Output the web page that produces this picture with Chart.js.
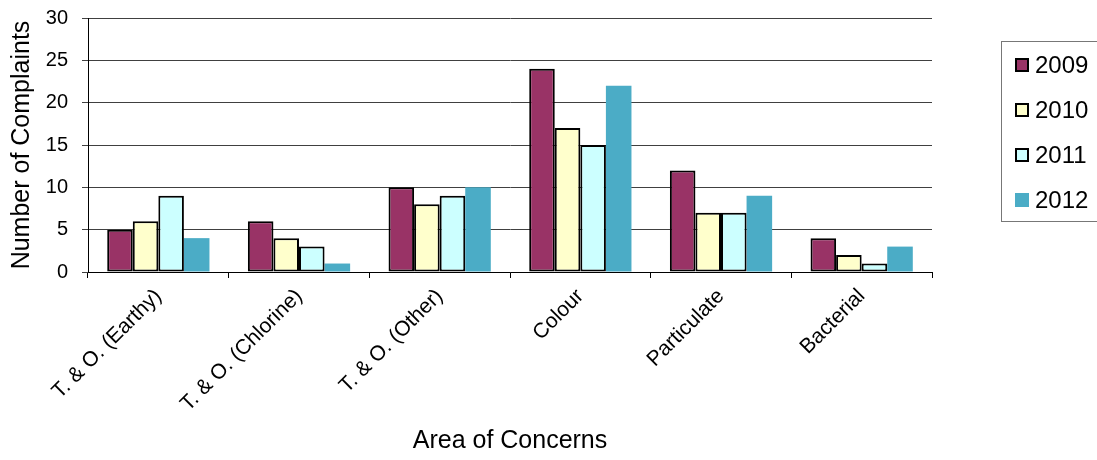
<!DOCTYPE html>
<html>
<head>
<meta charset="utf-8">
<script src="https://cdn.jsdelivr.net/npm/chart.js@4/dist/chart.umd.min.js"></script>
<style>
  html, body { margin: 0; padding: 0; background: #fff; }
  #wrap { width: 1097px; height: 460px; position: relative; }
</style>
</head>
<body>
<div id="wrap"><canvas id="myChart"></canvas></div>
<script>
const categories = ['T. & O. (Earthy)', 'T. & O. (Chlorine)', 'T. & O. (Other)', 'Colour', 'Particulate', 'Bacterial'];
const years = ['2009', '2010', '2011', '2012'];
const complaints2009 = [5, 6, 10, 24, 12, 4];
const complaints2010 = [6, 4, 8, 17, 7, 2];
const complaints2011 = [9, 3, 9, 15, 7, 1];
const complaints2012 = [4, 1, 10, 22, 9, 3];
const yTicks = [0, 5, 10, 15, 20, 25, 30];

const fills = ['#993366', '#ffffcc', '#ccffff', '#4bacc6'];
const edges = [2, 2, 2, 0];
const FONT = "Arial, 'Liberation Sans', sans-serif";

// boxed legend sitting to the right of the plot
const boxLegend = {
  id: 'boxLegend',
  afterDraw(chart) {
    const ctx = chart.ctx;
    ctx.save();
    ctx.strokeStyle = '#777';
    ctx.lineWidth = 1;
    ctx.strokeRect(1001.5, 41.5, 110, 180);
    ctx.font = '24px ' + FONT;
    ctx.textBaseline = 'middle';
    chart.data.datasets.forEach((ds, i) => {
      const cy = 65 + i * 45;
      ctx.fillStyle = ds.backgroundColor;
      ctx.fillRect(1015, cy - 7, 14, 14);
      if (ds.borderWidth) {
        ctx.strokeStyle = '#000';
        ctx.lineWidth = 2;
        ctx.strokeRect(1016, cy - 6, 12, 12);
      }
      ctx.fillStyle = '#000';
      ctx.fillText(ds.label, 1035, cy + 1);
    });
    ctx.restore();
  }
};

const series = [complaints2009, complaints2010, complaints2011, complaints2012];

const data = {
  labels: categories,
  datasets: years.map((y, i) => ({
    label: y,
    data: series[i],
    backgroundColor: fills[i],
    borderColor: '#000',
    borderWidth: edges[i],
    borderSkipped: false,
    categoryPercentage: 0.727,
    barPercentage: 1.0
  }))
};

const config = {
  type: 'bar',
  data,
  plugins: [boxLegend],
  options: {
    responsive: true,
    maintainAspectRatio: false,
    animation: false,
    layout: { padding: { top: 18, right: 165, left: 0, bottom: 0 } },
    plugins: {
      legend: { display: false },
      tooltip: { enabled: false }
    },
    scales: {
      x: {
        grid: {
          offset: true,
          drawOnChartArea: false,
          drawTicks: true,
          tickLength: 6,
          color: '#000'
        },
        border: { display: true, color: '#000', width: 1 },
        ticks: {
          color: '#000',
          font: { family: FONT, size: 21 },
          minRotation: 45,
          maxRotation: 45,
          padding: 6
        },
        title: {
          display: true,
          text: 'Area of Concerns',
          color: '#000',
          font: { family: FONT, size: 25 },
          padding: { top: 4, bottom: 4 }
        },
        afterFit(scale) {
          scale.height = 188;
          scale.paddingLeft = 0;
          scale.paddingRight = 0;
        }
      },
      y: {
        min: 0,
        max: 30,
        afterBuildTicks(scale) { scale.ticks = yTicks.map(v => ({ value: v })); },
        grid: {
          color: '#404040',
          drawTicks: true,
          tickLength: 6
        },
        border: { display: true, color: '#000', width: 1 },
        ticks: {
          color: '#000',
          font: { family: FONT, size: 20 },
          padding: 14
        },
        title: {
          display: true,
          text: 'Number of Complaints',
          color: '#000',
          font: { family: FONT, size: 25 },
          padding: { top: 7, bottom: 4 }
        },
        afterFit(scale) {
          scale.width = 88;
          scale.paddingTop = 0;
          scale.paddingBottom = 0;
        }
      }
    }
  }
};

new Chart(document.getElementById('myChart'), config);
</script>
</body>
</html>
